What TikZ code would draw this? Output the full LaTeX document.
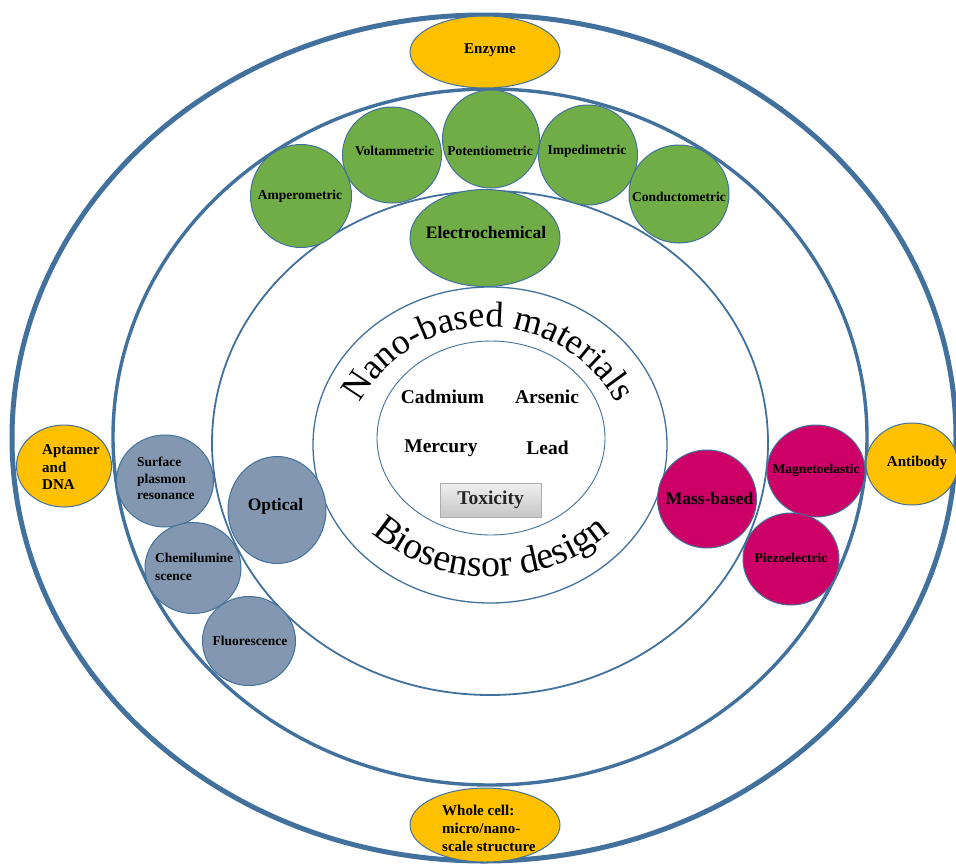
\documentclass[tikz,border=0pt]{standalone}
\usepackage{fontspec}
\setmainfont{Liberation Serif}
\usetikzlibrary{shapes.geometric,decorations.text}
\definecolor{ringblue}{HTML}{41719C}
\definecolor{ylw}{HTML}{FFC000}
\definecolor{grn}{HTML}{70AD47}
\definecolor{slate}{HTML}{8497B0}
\definecolor{mag}{HTML}{CC0066}
\begin{document}
\begin{tikzpicture}[x=1pt,y=1pt,
  blob/.style={ellipse, draw=ringblue, line width=1pt, inner sep=0pt, outer sep=0pt},
  sm/.style={font=\bfseries\fontsize{13.5}{16.5}\selectfont, inner sep=0pt, align=left},
  md/.style={font=\bfseries\fontsize{15}{17.5}\selectfont, inner sep=0pt, align=left},
  lg/.style={font=\bfseries\fontsize{17.5}{20}\selectfont, inner sep=0pt},
  xl/.style={font=\bfseries\fontsize{19.5}{22}\selectfont, inner sep=0pt},
  ring/.style={draw=ringblue}]
\useasboundingbox (0,0) rectangle (956,-863);
\fill[white] (0,0) rectangle (956,-863);
% rings
\draw[ring, line width=5pt] (484,-438) ellipse [x radius=472pt, y radius=423pt];
\draw[ring, line width=3.4pt] (490,-437) ellipse [x radius=377pt, y radius=348pt];
\draw[ring, line width=1.8pt] (490,-443) ellipse [x radius=278pt, y radius=252pt];
\draw[ring, line width=1.3pt] (490,-445) ellipse [x radius=177pt, y radius=158pt];
\draw[ring, line width=0.9pt] (491,-438) ellipse [x radius=114pt, y radius=97pt];
% curved texts
\path[decorate, decoration={text along path, text align=center,
  text={|\fontsize{36}{36}\selectfont|Nano-based materials}}]
  (488,-473) ++(160:146pt) arc[start angle=160, end angle=20, radius=146pt];
\path[decorate, decoration={text along path, text align=center,
  text={|\fontsize{38}{38}\selectfont|Biosensor design}}]
  (491,-393) ++(222:184pt) arc[start angle=222, end angle=318, radius=184pt];
% center contents
\node[xl] (cad) at (442.5,-396.7) {Cadmium};
\node[xl] (ars) at (547,-397) {Arsenic};
\node[xl] (mer) at (441,-448) {Mercury};
\node[xl] (lea) at (547.5,-448) {Lead};
\node[xl, draw=gray!65, line width=0.6pt, top color=gray!12, bottom color=gray!45,
  minimum width=101pt, minimum height=34pt] (tox) at (490.5,-500) {\color{black!85}Toxicity};
% yellow recognition elements
\node[blob, fill=ylw, minimum width=150pt, minimum height=72pt] (enz) at (485,-52) {};
\node[md] (enzL) at (490,-50) {Enzyme};
\node[blob, fill=ylw, minimum width=95pt, minimum height=82pt] (apt) at (64,-466) {};
\node[md, anchor=west] (aptL) at (42,-467.5) {Aptamer\\and\\DNA};
\node[blob, fill=ylw, minimum width=92pt, minimum height=82pt] (ab) at (912,-464) {};
\node[md] (abL) at (917,-462.7) {Antibody};
\node[blob, fill=ylw, minimum width=150pt, minimum height=74pt] (whole) at (485,-825) {};
\node[md, anchor=west, font=\bfseries\fontsize{15}{18}\selectfont] (wholeL) at (442,-828) {Whole cell:\\micro/nano-\\scale structure};
% electrochemical
\node[blob, fill=grn, minimum width=97pt, minimum height=98pt] (pot) at (491,-139) {};
\node[sm] (potL) at (490,-151) {Potentiometric};
\node[blob, fill=grn, minimum width=99pt, minimum height=96pt] (vol) at (392,-155) {};
\node[sm] (volL) at (394.5,-151) {Voltammetric};
\node[blob, fill=grn, minimum width=99pt, minimum height=100pt] (imp) at (588,-155) {};
\node[sm] (impL) at (587,-151.7) {Impedimetric};
\node[blob, fill=grn, minimum width=101pt, minimum height=103pt] (amp) at (301,-196) {};
\node[sm] (ampL) at (300,-196.7) {Amperometric};
\node[blob, fill=grn, minimum width=100pt, minimum height=98pt] (con) at (679,-194) {};
\node[sm] (conL) at (679,-197) {Conductometric};
\node[blob, fill=grn, minimum width=150pt, minimum height=97pt] (elec) at (485,-238) {};
\node[lg] (elecL) at (486,-233) {Electrochemical};
% optical
\node[blob, fill=slate, minimum width=97pt, minimum height=92pt] (spr) at (165,-481) {};
\node[sm, anchor=west] (sprL) at (137,-478.5) {Surface\\plasmon\\resonance};
\node[blob, fill=slate, minimum width=98pt, minimum height=107pt] (opt) at (277,-510) {};
\node[lg] (optL) at (275.5,-506) {Optical};
\node[blob, fill=slate, minimum width=96pt, minimum height=91pt] (chem) at (193,-568) {};
\node[sm, anchor=west, font=\bfseries\fontsize{13.5}{18}\selectfont] (chemL) at (155,-567) {Chemilumine\\scence};
\node[blob, fill=slate, minimum width=93pt, minimum height=89pt] (flu) at (249,-641) {};
\node[sm] (fluL) at (250,-641) {Fluorescence};
% mass-based
\node[blob, fill=mag, minimum width=99pt, minimum height=98pt] (mass) at (707,-499) {};
\node[lg] (massL) at (709.5,-499) {Mass-based};
\node[blob, fill=mag, minimum width=98pt, minimum height=92pt] (magn) at (816,-471) {};
\node[sm] (magnL) at (816,-470.7) {Magnetoelastic};
\node[blob, fill=mag, minimum width=96pt, minimum height=92pt] (pie) at (791,-559) {};
\node[sm] (pieL) at (791,-558) {Piezoelectric};
\end{tikzpicture}
\end{document}
